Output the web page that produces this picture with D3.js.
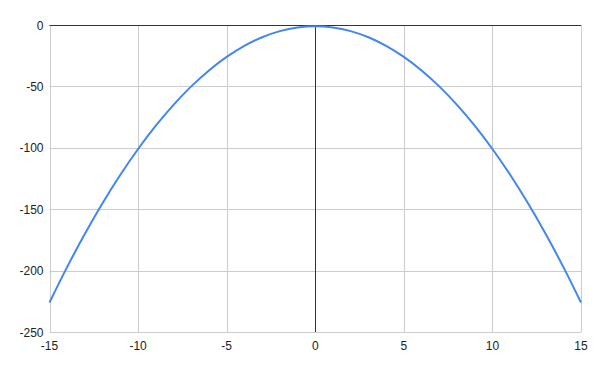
<!DOCTYPE html>
<html>
<head>
<meta charset="utf-8">
<script src="https://cdn.jsdelivr.net/npm/d3@7"></script>
<style>
  body { margin: 0; background: #fff; }
  svg { display: block; font-family: Arial, "Liberation Sans", sans-serif; }
</style>
</head>
<body>
<div id="chart"></div>
<script>
// values
const xs = [-15, -14, -13, -12, -11, -10, -9, -8, -7, -6, -5, -4, -3, -2, -1, 0,
            1, 2, 3, 4, 5, 6, 7, 8, 9, 10, 11, 12, 13, 14, 15];
const ys = [-226, -197, -170, -145, -122, -101, -82, -65, -50, -37, -26, -17, -10, -5, -2, -1,
            -2, -5, -10, -17, -26, -37, -50, -65, -82, -101, -122, -145, -170, -197, -226];
const xTicks = [-15, -10, -5, 0, 5, 10, 15];
const yTicks = [0, -50, -100, -150, -200, -250];

const width = 600, height = 371;
const margin = { top: 25, right: 19, bottom: 39, left: 49.5 };

const svg = d3.select("#chart").append("svg")
    .attr("width", width)
    .attr("height", height);

const x = d3.scaleLinear().domain([-15, 15]).range([margin.left, width - margin.right]);
const y = d3.scaleLinear().domain([-250, 0]).range([height - margin.bottom, margin.top]);

// gridlines
svg.append("g")
    .selectAll("line.h")
    .data(yTicks)
    .enter().append("line")
    .attr("x1", x(-15)).attr("x2", x(15))
    .attr("y1", d => Math.round(y(d)) + 0.5).attr("y2", d => Math.round(y(d)) + 0.5)
    .attr("stroke", "#cccccc");

svg.append("g")
    .selectAll("line.v")
    .data(xTicks)
    .enter().append("line")
    .attr("x1", d => Math.round(x(d)) + 0.5).attr("x2", d => Math.round(x(d)) + 0.5)
    .attr("y1", y(0)).attr("y2", y(-250))
    .attr("stroke", "#cccccc");

// zero axes
svg.append("line")
    .attr("x1", x(-15)).attr("x2", x(15))
    .attr("y1", Math.round(y(0)) + 0.5).attr("y2", Math.round(y(0)) + 0.5)
    .attr("stroke", "#333");
svg.append("line")
    .attr("x1", Math.round(x(0)) + 0.5).attr("x2", Math.round(x(0)) + 0.5)
    .attr("y1", y(0)).attr("y2", y(-250))
    .attr("stroke", "#333");

// curve
const data = xs.map((d, i) => ({ x: d, y: ys[i] }));
const line = d3.line()
    .x(d => x(d.x))
    .y(d => y(d.y))
    .curve(d3.curveCatmullRom);

svg.append("path")
    .datum(data)
    .attr("d", line)
    .attr("fill", "none")
    .attr("stroke", "#4285f4")
    .attr("stroke-width", 2);

// tick labels
svg.append("g")
    .selectAll("text")
    .data(yTicks)
    .enter().append("text")
    .attr("x", margin.left - 6)
    .attr("y", d => y(d) + 4.5)
    .attr("text-anchor", "end")
    .attr("font-size", 12)
    .attr("fill", "#222")
    .text(d => d);

svg.append("g")
    .selectAll("text")
    .data(xTicks)
    .enter().append("text")
    .attr("x", d => x(d))
    .attr("y", height - margin.bottom + 18)
    .attr("text-anchor", "middle")
    .attr("font-size", 12)
    .attr("fill", "#222")
    .text(d => d);
</script>
</body>
</html>
